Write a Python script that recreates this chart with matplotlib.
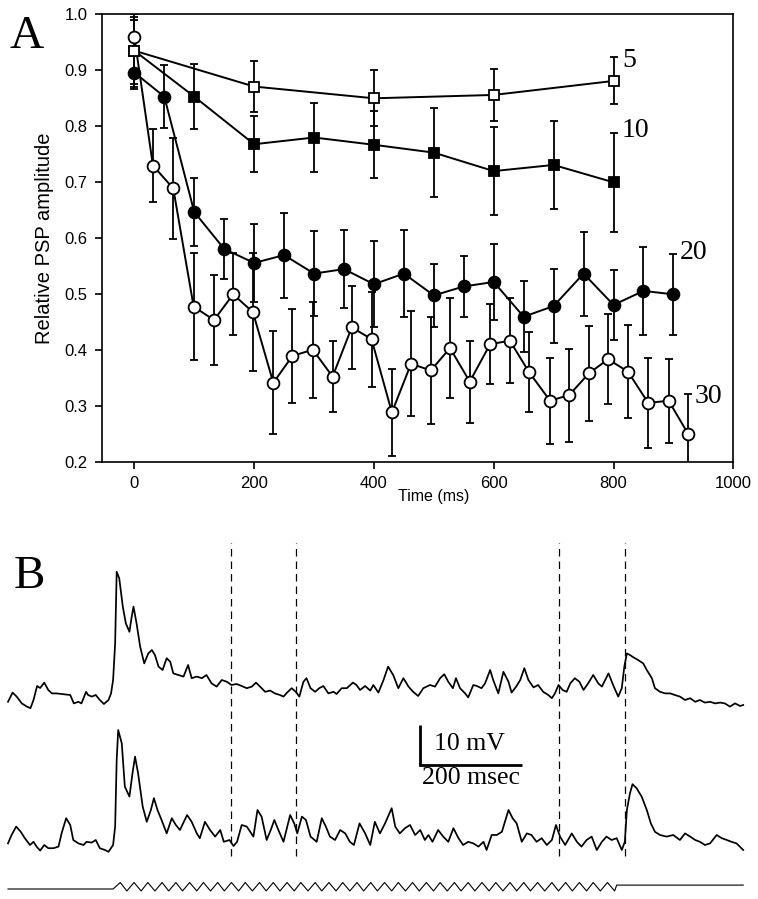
import matplotlib
matplotlib.use("Agg")
import matplotlib.pyplot as plt
import numpy as np

# ---------------- Panel A data ----------------
t5 = [0, 200, 400, 600, 800]
y5 = [0.935, 0.871, 0.850, 0.856, 0.881]
e5 = [0.06, 0.045, 0.05, 0.047, 0.042]

t10 = [0, 100, 200, 300, 400, 500, 600, 700, 800]
y10 = [0.935, 0.853, 0.768, 0.780, 0.767, 0.753, 0.720, 0.731, 0.700]
e10 = [0.065, 0.058, 0.05, 0.062, 0.06, 0.08, 0.078, 0.079, 0.088]

t20 = [0, 50, 100, 150, 200, 250, 300, 350, 400, 450, 500, 550, 600, 650,
       700, 750, 800, 850, 900]
y20 = [0.896, 0.853, 0.647, 0.581, 0.556, 0.570, 0.537, 0.545, 0.518, 0.537,
       0.498, 0.514, 0.522, 0.460, 0.479, 0.537, 0.481, 0.506, 0.500]
e20 = [0.03, 0.056, 0.061, 0.053, 0.07, 0.076, 0.076, 0.07, 0.077, 0.078,
       0.056, 0.055, 0.068, 0.063, 0.066, 0.075, 0.063, 0.078, 0.072]

t30 = [0, 31, 65, 99, 133, 165, 198, 232, 264, 298, 331, 363, 396, 430, 462,
       495, 527, 560, 594, 627, 659, 694, 726, 759, 791, 824, 858, 892, 925]
y30 = [0.960, 0.730, 0.689, 0.478, 0.454, 0.500, 0.468, 0.342, 0.390, 0.401,
       0.353, 0.441, 0.420, 0.289, 0.376, 0.364, 0.404, 0.344, 0.411, 0.417,
       0.361, 0.310, 0.320, 0.359, 0.384, 0.362, 0.306, 0.310, 0.250]
e30 = [0.03, 0.065, 0.09, 0.095, 0.08, 0.073, 0.105, 0.092, 0.084, 0.086,
       0.063, 0.074, 0.085, 0.077, 0.094, 0.096, 0.09, 0.073, 0.071, 0.076,
       0.072, 0.077, 0.083, 0.085, 0.08, 0.083, 0.08, 0.075, 0.072]

series_labels = ["5", "10", "20", "30"]
label_pos = [(814, 0.918), (813, 0.792), (911, 0.575), (936, 0.318)]

xticks = [0, 200, 400, 600, 800, 1000]
yticks = [0.2, 0.3, 0.4, 0.5, 0.6, 0.7, 0.8, 0.9, 1.0]

# ---------------- Panel B data (time in ms, voltage in mV) ----------------
tr1_t = [0, 9, 17, 27, 37, 44, 50, 57, 63, 71, 79, 86, 95, 108, 122, 129, 138,
         144, 153, 157, 164, 172, 180, 188, 197, 202, 206, 210, 213, 218, 225,
         231, 238, 242, 246, 252, 259, 267, 275, 282, 288, 295, 303, 311, 318,
         324, 334, 344, 353, 360, 370, 380, 389, 399, 409, 419, 429, 438, 448,
         458, 468, 478, 486, 494, 504, 514, 523, 533, 540, 547, 556, 564, 571,
         579, 585, 593, 602, 610, 618, 628, 638, 644, 654, 664, 676, 683, 690,
         700, 710, 716, 726, 736, 745, 755, 765, 775, 785, 794, 804, 814, 827,
         837, 847, 855, 863, 872, 878, 886, 896, 902, 912, 919, 928, 935, 945,
         951, 961, 971, 981, 987, 996, 1004, 1012, 1020, 1030, 1039, 1049, 1059,
         1066, 1072, 1079, 1087, 1095, 1102, 1111, 1120, 1128, 1137, 1147, 1157,
         1164, 1177, 1186, 1196, 1203, 1208, 1213, 1219, 1226, 1235, 1245, 1252,
         1262, 1268, 1278, 1288, 1298, 1307, 1317, 1327, 1337, 1347, 1356, 1366,
         1376, 1386, 1396, 1405, 1415, 1425, 1435, 1441]
tr1_v = [-1.7, 0.6, -0.4, -2.1, -2.9, -3.3, -1.25, 2.25, 1.75, 3.1, 1.25, 0.4,
         0.4, 0.2, 0.0, -2.1, -1.7, -2.1, 0.8, 0.0, -0.4, 0.0, -1.25, -2.25,
         -1.25, 0.4, 3.75, 12.9, 30.8, 29.2, 22.1, 17.9, 15.8, 19.2, 22.1, 17.9,
         12.1, 7.9, 10.4, 11.25, 10.0, 7.1, 6.25, 9.2, 8.3, 5.4, 5.0, 4.6, 7.5,
         4.2, 4.6, 4.2, 5.0, 2.9, 2.1, 3.75, 3.3, 2.5, 2.75, 2.25, 1.7, 2.1, 3.1,
         2.1, 0.8, 1.1, 0.4, 0.0, -0.4, 0.6, 1.7, 0.8, -0.4, 3.3, 4.2, 1.7, 0.8,
         1.7, 2.25, 0.4, 0.8, 0.25, 1.7, 1.7, 3.1, 2.5, 1.25, 2.25, 1.1, 2.5, 0.6,
         3.75, 7.1, 5.0, 1.7, 4.2, 2.1, 0.8, -0.25, 1.7, 2.5, 2.1, 4.2, 5.2, 3.3,
         1.7, 4.2, 1.7, 0.4, -0.6, 2.5, 2.25, 1.7, 2.9, 6.25, 3.75, 0.4, 5.8, 3.3,
         0.6, 2.1, 3.75, 6.7, 3.75, 1.9, 2.5, 0.8, 0.0, -0.8, 0.4, 2.5, 1.25, 0.8,
         2.9, 4.2, 3.3, 1.25, 2.9, 5.0, 2.9, 2.1, 5.4, 2.5, -0.4, 1.7, 7.1, 10.4,
         10.0, 9.4, 8.75, 7.9, 6.25, 4.2, 1.7, 0.8, 0.4, 0.4, 0.0, -0.4, -1.25,
         -0.8, -1.7, -1.25, -1.9, -1.7, -2.1, -1.9, -2.1, -2.9, -2.1, -2.75, -2.5]

tr2_t = [0, 7, 16, 25, 33, 43, 50, 56, 63, 71, 79, 89, 99, 105, 114, 122, 128,
         138, 148, 154, 164, 172, 180, 190, 197, 206, 210, 213, 216, 223, 229,
         238, 244, 249, 255, 264, 272, 280, 286, 293, 301, 311, 321, 329, 337,
         351, 360, 370, 376, 386, 396, 406, 416, 423, 434, 442, 449, 458, 468,
         481, 489, 497, 507, 515, 522, 530, 540, 553, 561, 567, 576, 584, 593,
         605, 615, 623, 631, 641, 651, 661, 670, 678, 689, 700, 710, 719, 729,
         739, 752, 759, 768, 778, 788, 798, 808, 817, 824, 832, 843, 853, 863,
         873, 883, 892, 902, 912, 922, 932, 938, 948, 958, 968, 981, 989, 997,
         1007, 1017, 1026, 1036, 1046, 1056, 1066, 1074, 1082, 1092, 1105, 1115,
         1124, 1134, 1144, 1154, 1164, 1173, 1183, 1193, 1203, 1209, 1213, 1219,
         1224, 1232, 1242, 1252, 1260, 1268, 1278, 1291, 1304, 1317, 1327, 1337,
         1347, 1356, 1366, 1376, 1389, 1399, 1409, 1418, 1428, 1441]
tr2_v = [0.4, 2.5, 4.6, 3.3, 1.7, 0.0, 0.8, -0.4, -1.4, 0.0, -0.8, -0.8, -0.4,
         2.9, 6.7, 5.0, 1.25, 0.4, 0.0, 0.8, 0.6, 1.25, -0.8, -1.25, -1.7, 0.0,
         4.6, 21.25, 28.75, 25.4, 14.6, 12.1, 17.9, 22.1, 17.9, 9.6, 5.8, 8.75,
         11.7, 8.75, 6.25, 2.9, 6.7, 5.0, 3.75, 7.5, 5.8, 2.9, 1.7, 5.8, 3.75,
         2.1, 3.75, 0.8, 1.25, -0.25, 0.8, 5.0, 4.6, 2.1, 8.75, 7.1, 1.25, 3.75,
         6.25, 3.75, 0.8, 7.5, 5.4, 2.9, 7.1, 6.25, 2.1, 0.8, 6.7, 4.6, 2.1, 1.25,
         3.75, 2.9, 0.8, 0.0, 5.4, 2.9, 0.0, 5.8, 2.9, 5.4, 9.2, 4.6, 2.9, 4.2,
         5.0, 2.5, 3.75, 1.25, 2.5, 0.8, 3.75, 2.1, 0.8, 4.2, 1.7, 0.0, 0.8, 0.4,
         -0.4, 0.8, -1.25, 2.5, 2.5, 3.3, 8.75, 6.7, 5.4, 0.8, 2.9, 2.5, 0.8, 1.7,
         0.0, 1.25, 5.0, 2.1, 0.0, 2.9, 0.8, -0.4, 1.25, 2.1, -1.25, 0.8, 2.1,
         1.25, 1.7, -1.25, 0.8, 8.75, 12.9, 15.2, 14.2, 12.1, 8.75, 5.4, 3.3, 2.5,
         2.1, 2.5, 1.25, 2.9, 2.1, 1.25, 0.8, 0.0, 0.4, 2.5, 1.7, 1.25, 0.8, 0.4,
         -1.25]

# stimulus (sinusoidal command) vertices
stim_peaks = [220, 247, 274, 302, 329, 356, 383, 411, 438, 465, 493, 520, 547,
              574, 602, 629, 656, 684, 711, 738, 765, 793, 820, 847, 875, 902,
              929, 956, 984, 1011, 1038, 1066, 1093, 1120, 1147, 1175]
stim_troughs = [206, 233, 261, 288, 315, 342, 370, 397, 424, 452, 479, 506,
                533, 561, 588, 615, 643, 670, 697, 724, 752, 779, 806, 834,
                861, 888, 915, 943, 970, 997, 1024, 1052, 1079, 1106, 1134,
                1161, 1189]
stim_start, stim_end, rec_end = 0, 1189, 1441
stim_levels = {"pre": 0.0, "trough": -0.3, "peak": 1.0, "post": 0.6}

dash_times = [437, 564, 1080, 1209]
scalebar_ms = 200
scalebar_mv = 10

# ---------------- Figure ----------------
W, H = 758, 899
fig = plt.figure(figsize=(W / 100, H / 100), dpi=100)
fig.patch.set_facecolor("white")

sans = ["Liberation Sans", "DejaVu Sans"]
serif = ["Liberation Serif", "DejaVu Serif"]

# Panel A axes
axA = fig.add_axes([101.7 / W, 1 - 462.3 / H, (733.3 - 101.7) / W, (462.3 - 14.3) / H])
axA.set_xlim(-54.5, 1000)
axA.set_ylim(0.2, 1.0)

lw = 1.4
ekw = dict(ecolor="black", elinewidth=1.3, capsize=2.7, capthick=1.3)

axA.errorbar(t30, y30, yerr=e30, color="black", lw=lw, marker="o", ms=8.5,
             mfc="white", mec="black", mew=1.3, zorder=3, **ekw)
axA.errorbar(t20, y20, yerr=e20, color="black", lw=lw, marker="o", ms=8.5,
             mfc="black", mec="black", mew=1.3, zorder=3, **ekw)
axA.errorbar(t10, y10, yerr=e10, color="black", lw=lw, marker="s", ms=7.5,
             mfc="black", mec="black", mew=1.3, zorder=3, **ekw)
axA.errorbar(t5, y5, yerr=e5, color="black", lw=lw, marker="s", ms=7.5,
             mfc="white", mec="black", mew=1.3, zorder=3, **ekw)

for lab, (lx, ly) in zip(series_labels, label_pos):
    axA.text(lx, ly, lab, fontsize=20, family=serif, ha="left", va="center")

axA.set_xticks(xticks)
axA.set_xticklabels([str(v) for v in xticks])
axA.set_yticks(yticks)
axA.set_yticklabels([f"{v:.1f}" for v in yticks])
axA.tick_params(direction="out", length=5, width=1.2, labelsize=12, pad=5,
                top=False, right=False)
for lbl in axA.get_xticklabels() + axA.get_yticklabels():
    lbl.set_family(sans)
for sp in axA.spines.values():
    sp.set_linewidth(1.2)
axA.set_xlabel("Time (ms)", fontsize=11.5, family=sans, labelpad=6)
axA.xaxis.set_label_coords((433.8 - 101.7) / (733.3 - 101.7), -27 / 448)
axA.set_ylabel("Relative PSP amplitude", fontsize=14.5, family=sans, labelpad=8)

fig.text(10 / W, 1 - 48 / H, "A", fontsize=34, family=serif, ha="left", va="baseline")
fig.text(14 / W, 1 - 588 / H, "B", fontsize=34, family=serif, ha="left", va="baseline")

# Panel B axes (time in ms horizontally, mV vertically: 1 mV = 4 px)
top_px = 530
axB = fig.add_axes([0, 0, 1, (H - top_px) / H])
ms_per_px = 1.96
axB.set_xlim(-8 * ms_per_px, (W - 8) * ms_per_px)
axB.set_ylim(0, (H - top_px) / 4)
axB.axis("off")

off1 = (H - 695) / 4
off2 = (H - 845) / 4
off_s = (H - 889) / 4
stim_scale = 6.5 / 4

axB.plot(tr1_t, np.array(tr1_v) + off1, color="black", lw=1.25)
axB.plot(tr2_t, np.array(tr2_v) + off2, color="black", lw=1.25)

# stimulus trace
st_t = [stim_start, stim_troughs[0]]
st_v = [stim_levels["pre"], stim_levels["pre"]]
for i, p in enumerate(stim_peaks):
    st_t += [p, stim_troughs[i + 1]]
    st_v += [stim_levels["peak"], stim_levels["trough"]]
st_t += [stim_end + 4, rec_end]
st_v += [stim_levels["post"], stim_levels["post"]]
axB.plot(st_t, np.array(st_v) * stim_scale + off_s, color="black", lw=0.8)

# dashed markers
for dt in dash_times:
    axB.plot([dt, dt], [(H - 856) / 4, (H - 543) / 4], color="black", lw=0.9,
             dashes=(6, 4))

# scale bar
sb_x0 = (420 - 8) * ms_per_px
sb_y0 = (H - 765) / 4
axB.plot([sb_x0, sb_x0, sb_x0 + scalebar_ms], [sb_y0 + scalebar_mv, sb_y0, sb_y0],
         color="black", lw=2.0, solid_capstyle="butt", solid_joinstyle="miter")
axB.text(sb_x0 + 28, sb_y0 + 5.2, f"{scalebar_mv} mV", fontsize=18.5, family=serif,
         ha="left", va="center")
axB.text(sb_x0 + 100, sb_y0 - 3.2, f"{scalebar_ms} msec", fontsize=18.5, family=serif,
         ha="center", va="center")

fig.savefig("out.png", dpi=100, facecolor="white")
